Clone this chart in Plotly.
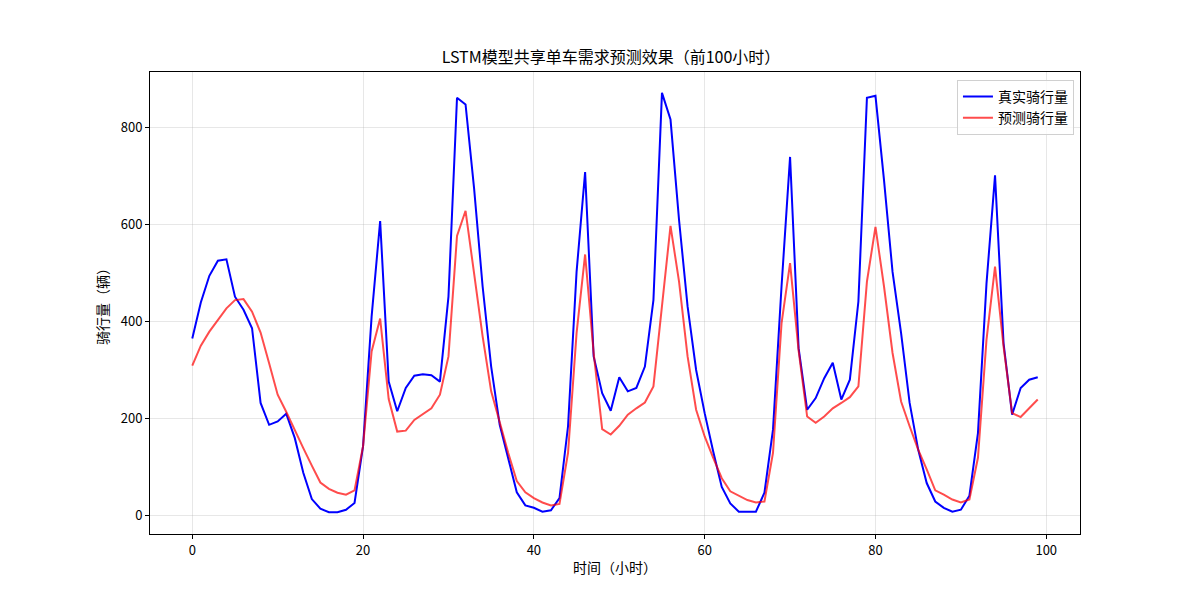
import plotly.graph_objects as go

# 前100小时的真实值与预测值
hours = list(range(100))

true_counts = [
    365, 439, 494, 525, 528, 451, 424, 386, 232, 187,
    194, 210, 160, 88, 34, 14, 7, 7, 12, 26,
    143, 410, 607, 276, 215, 263, 288, 291, 289, 276,
    451, 861, 847, 674, 472, 307, 187, 115, 48, 21,
    16, 8, 11, 36, 184, 502, 708, 328, 252, 216,
    285, 256, 263, 307, 444, 871, 816, 609, 431, 300,
    211, 132, 59, 25, 8, 8, 8, 47, 177, 472,
    739, 345, 218, 242, 283, 315, 239, 280, 441, 861,
    865, 691, 502, 376, 232, 136, 67, 29, 16, 8,
    12, 41, 170, 478, 701, 355, 208, 263, 280, 285,
]

pred_counts = [
    309, 350, 379, 403, 427, 444, 446, 420, 377, 314,
    249, 214, 175, 139, 103, 68, 55, 47, 43, 52,
    143, 338, 406, 240, 173, 175, 197, 209, 221, 249,
    328, 576, 628, 499, 369, 256, 191, 129, 71, 48,
    36, 27, 21, 24, 129, 376, 538, 335, 178, 167,
    185, 208, 221, 233, 266, 431, 597, 482, 328, 218,
    163, 119, 77, 50, 41, 32, 27, 29, 129, 396,
    520, 340, 204, 191, 204, 221, 232, 244, 266, 482,
    595, 472, 335, 235, 184, 136, 95, 52, 43, 33,
    27, 33, 119, 362, 513, 348, 211, 203, 221, 239,
]

x_ticks = [0, 20, 40, 60, 80, 100]
y_ticks = [0, 200, 400, 600, 800]

font_name = "Noto Sans CJK SC"

fig = go.Figure()

fig.add_trace(go.Scatter(
    x=hours, y=true_counts, mode="lines", name="真实骑行量",
    line=dict(color="#0000ff", width=2),
))

fig.add_trace(go.Scatter(
    x=hours, y=pred_counts, mode="lines", name="预测骑行量",
    line=dict(color="rgba(255,0,0,0.7)", width=2),
))

axis_style = dict(
    showline=True, linecolor="black", linewidth=1, mirror=True,
    ticks="outside", ticklen=4, tickcolor="black",
    showgrid=True, gridcolor="rgba(176,176,176,0.3)", gridwidth=1,
    zeroline=False, automargin=False,
    tickfont=dict(family=font_name, size=13, color="black"),
)

# 页面自带约8px边距，这里把边距整体往左上收一点
fig.update_layout(
    width=1200, height=600,
    paper_bgcolor="white", plot_bgcolor="white",
    margin=dict(l=142, r=128, t=64, b=74),
    font=dict(family=font_name, color="black"),
    title=dict(
        text="LSTM模型共享单车需求预测效果（前100小时）",
        x=0.5025, xanchor="center", y=0.917, yanchor="middle",
        font=dict(family=font_name, size=16, color="black"),
    ),
    showlegend=True,
    legend=dict(
        x=0.9935, y=0.983, xanchor="right", yanchor="top",
        bgcolor="rgba(255,255,255,0.8)",
        bordercolor="#d0d0d0", borderwidth=1,
        font=dict(family=font_name, size=14, color="black"),
    ),
)

fig.update_xaxes(
    range=[-4.95, 103.95], tickvals=x_ticks,
    title=dict(text="时间（小时）", font=dict(family=font_name, size=14), standoff=5),
    **axis_style,
)
fig.update_yaxes(
    range=[-38, 914], tickvals=y_ticks,
    title=dict(text="骑行量（辆）", font=dict(family=font_name, size=14), standoff=8),
    **axis_style,
)

fig.write_html("out.html")
